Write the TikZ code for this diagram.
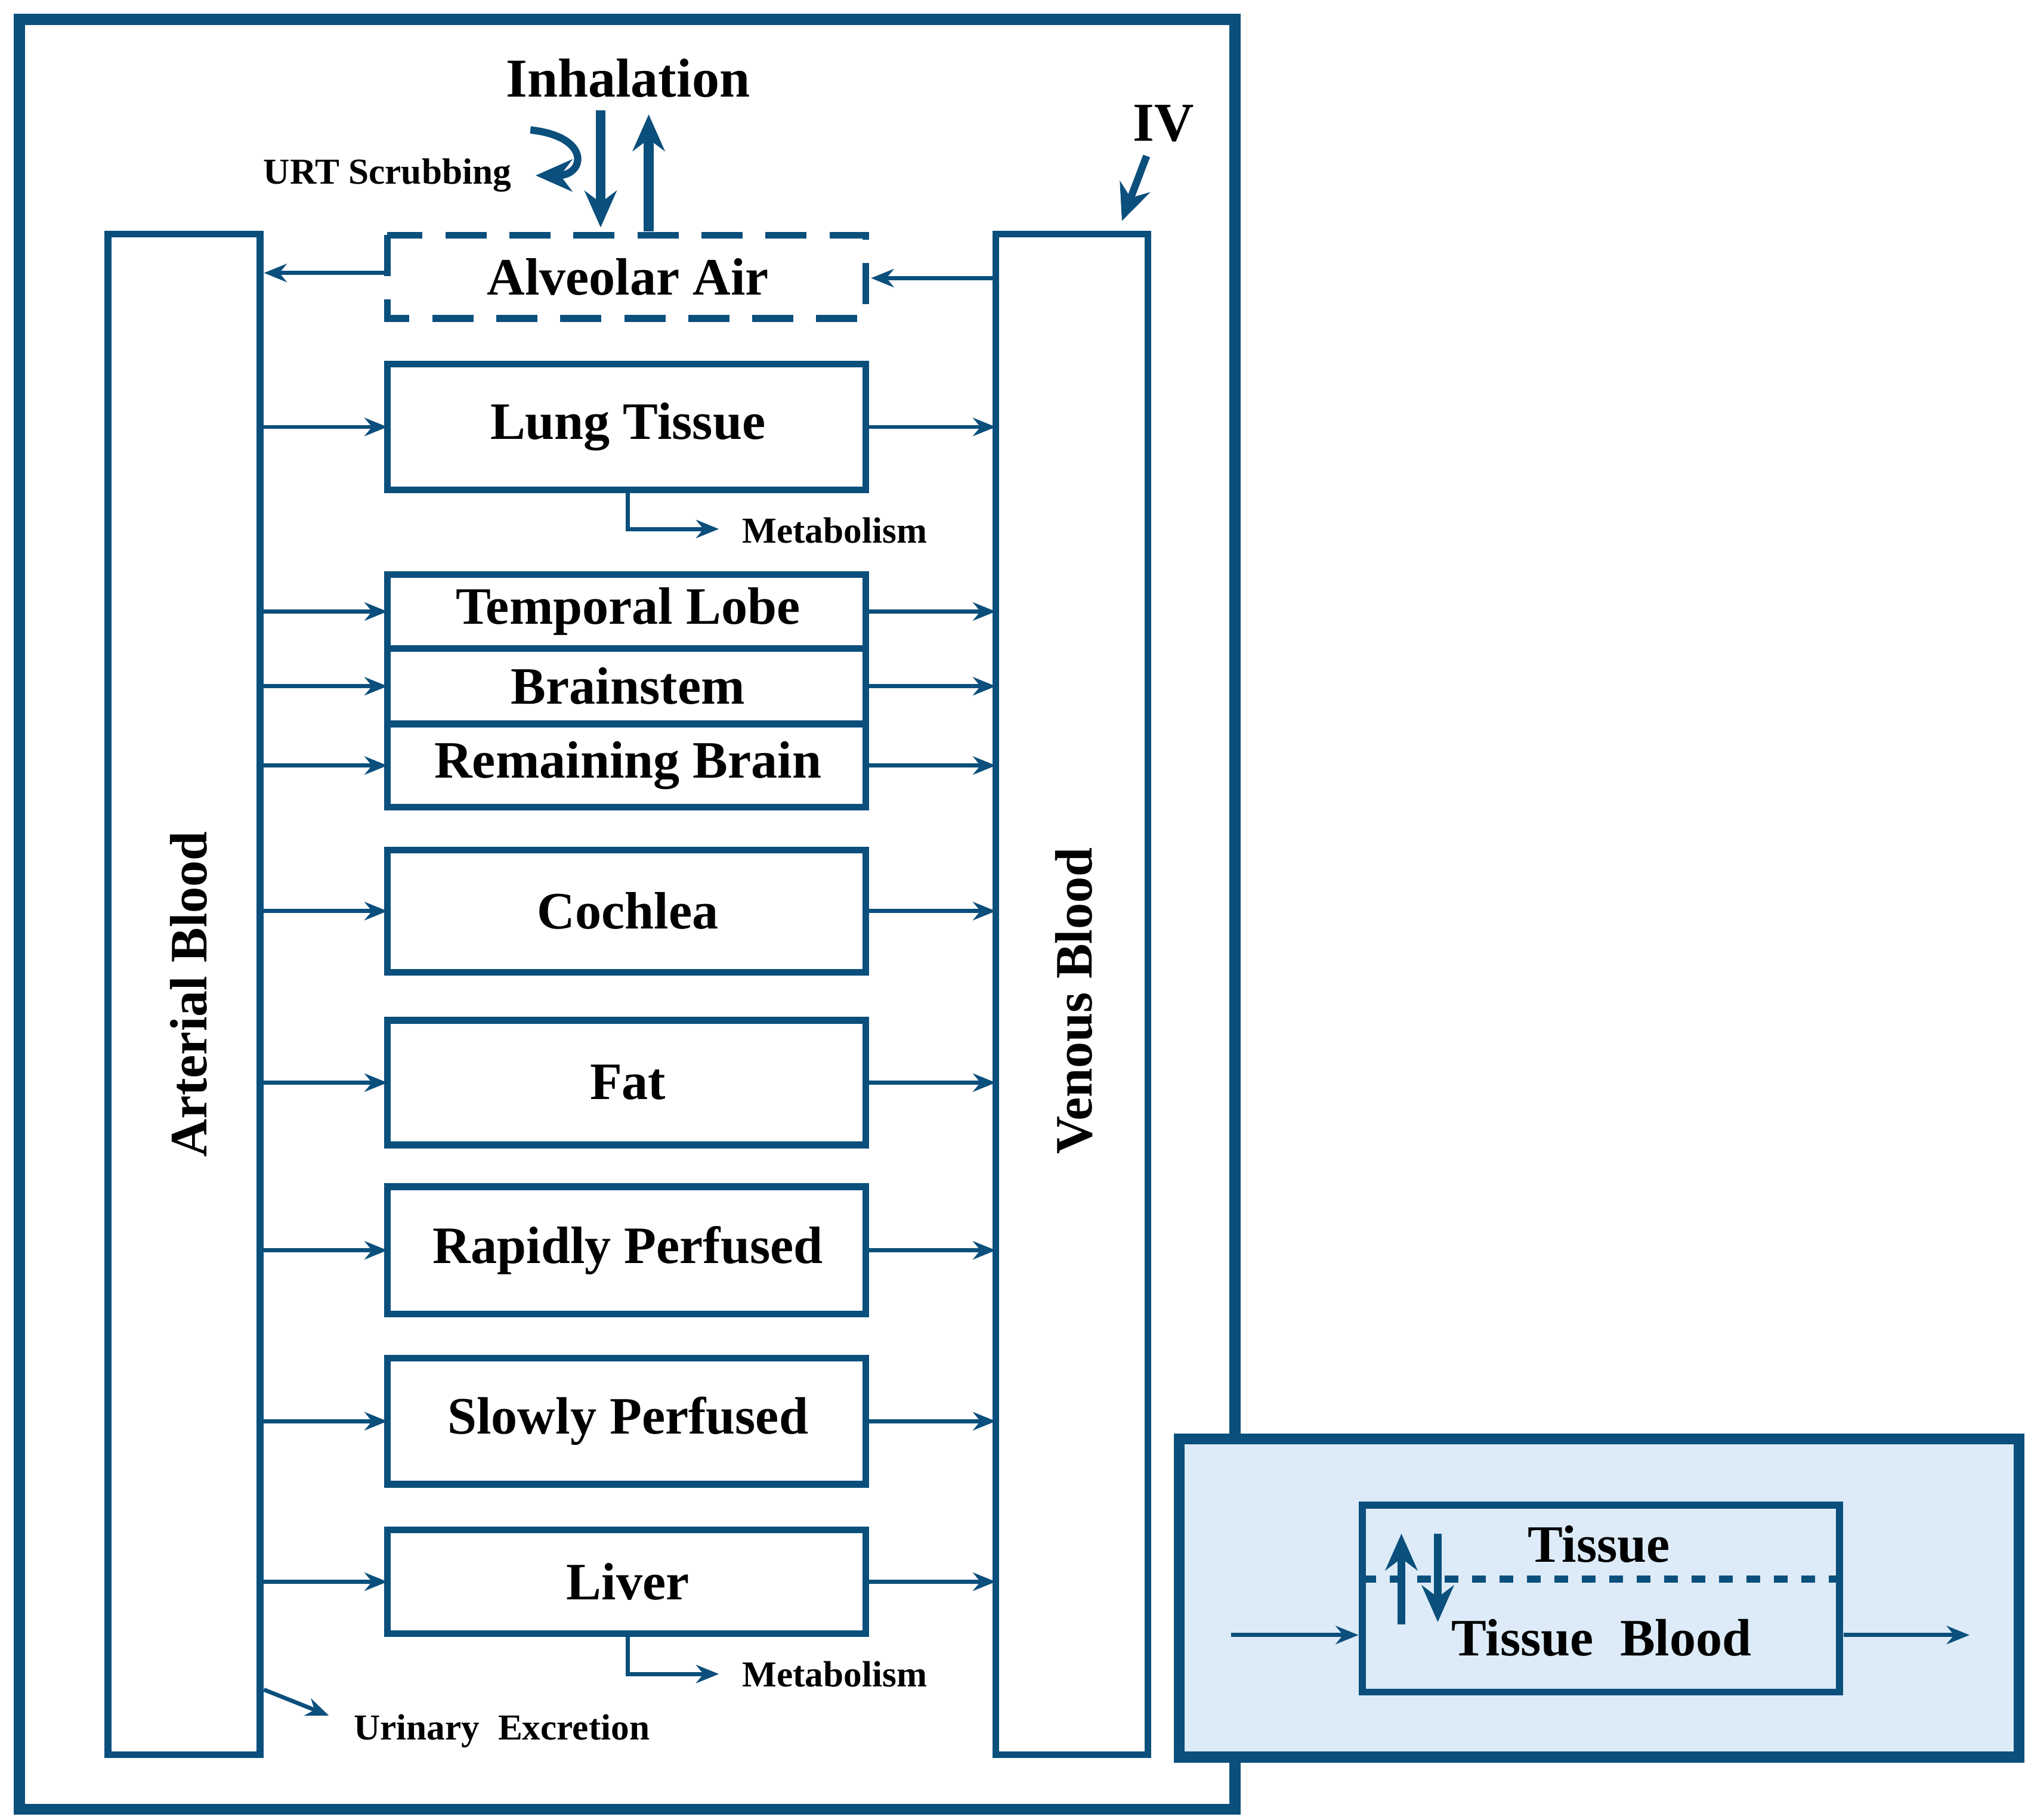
\documentclass[tikz,border=0pt]{standalone}
\usepackage{fontspec}
\setmainfont{Liberation Serif}
\usetikzlibrary{arrows.meta}
\definecolor{db}{HTML}{0B4F7C}
\definecolor{lb}{HTML}{DCEBF7}
\begin{document}
\begin{tikzpicture}[x=0.01cm,y=-0.01cm,
  box/.style={draw=db,line width=1.5pt},
  lab/.style={font=\bfseries\fontsize{11.5}{13}\selectfont,text=black},
  sm/.style={font=\bfseries\fontsize{8}{9}\selectfont,text=black},
  arr/.style={draw=db,line width=0.9pt,-{Stealth[length=5pt,width=4pt]}},
  big/.style={draw=db,line width=2.2pt,-{Stealth[length=8pt,width=7pt]}}]
\useasboundingbox (0,0) rectangle (1560,1400);
\draw[db,line width=2.4pt] (15,15) rectangle (950,1392);
\draw[box] (83,180) rectangle (200,1350);
\draw[box] (766,180) rectangle (883,1350);
\node[lab,rotate=90] at (145,765) {Arterial Blood};
\node[lab,rotate=90] at (826,770) {Venous Blood};
\coordinate (aL) at (200,0); \coordinate (vR) at (766,0);
\draw[box,dashed,dash pattern=on 9pt off 5pt] (298,181) rectangle (666,245);
\node[lab] at (483,213) {Alveolar Air};
\foreach \t/\b/\l/\n in {280/377/Lung Tissue/lt,442/499/Temporal Lobe/tl,499/557/Brainstem/bs,557/621/Remaining Brain/rb,654/748/Cochlea/co,785/881/Fat/fa,913/1011/Rapidly Perfused/rp,1045/1142/Slowly Perfused/sp,1177/1257/Liver/li}{
  \draw[box] (298,\t) rectangle (666,\b);
  \node[lab] (\n) at (483,{(\t+\b)/2}) {\l};
  \draw[arr] (200,{(\t+\b)/2}) -- (298,{(\t+\b)/2});
  \draw[arr] (666,{(\t+\b)/2}) -- (766,{(\t+\b)/2});
}
\draw[arr] (766,214) -- (670,214);
\draw[arr] (298,210) -- (203,210);
\node[font=\bfseries\fontsize{12}{14}\selectfont] at (483,60) {Inhalation};
\draw[big] (462,85) -- (462,175);
\draw[big] (499,178) -- (499,88);
\node[sm] at (298,135) {URT Scrubbing};
\draw[big,line width=1.6pt] (408,100) .. controls (455,105) and (450,135) .. (412,135);
\node[font=\bfseries\fontsize{12}{14}\selectfont] at (895,95) {IV};
\draw[big,line width=1.6pt] (882,120) -- (863,170);
\draw[arr] (483,377) |- (553,407);
\node[sm] at (642,408) {Metabolism};
\draw[arr] (483,1257) |- (553,1288);
\node[sm] at (642,1288) {Metabolism};
\draw[arr] (203,1300) -- (253,1320);
\node[sm] at (386,1332) {Urinary\ \ Excretion};
\draw[db,line width=2.4pt,fill=lb] (907,1107) rectangle (1553,1352);
\draw[box] (1048,1158) rectangle (1415,1302);
\draw[db,line width=1.5pt,dashed] (1048,1215) -- (1415,1215);
\node[lab] at (1230,1188) {Tissue};
\node[lab] at (1232,1260) {Tissue\ \ Blood};
\draw[arr] (947,1258) -- (1045,1258);
\draw[arr] (1418,1258) -- (1515,1258);
\draw[big,line width=1.6pt] (1078,1250) -- (1078,1180);
\draw[big,line width=1.6pt] (1106,1180) -- (1106,1248);
\end{tikzpicture}
\end{document}
